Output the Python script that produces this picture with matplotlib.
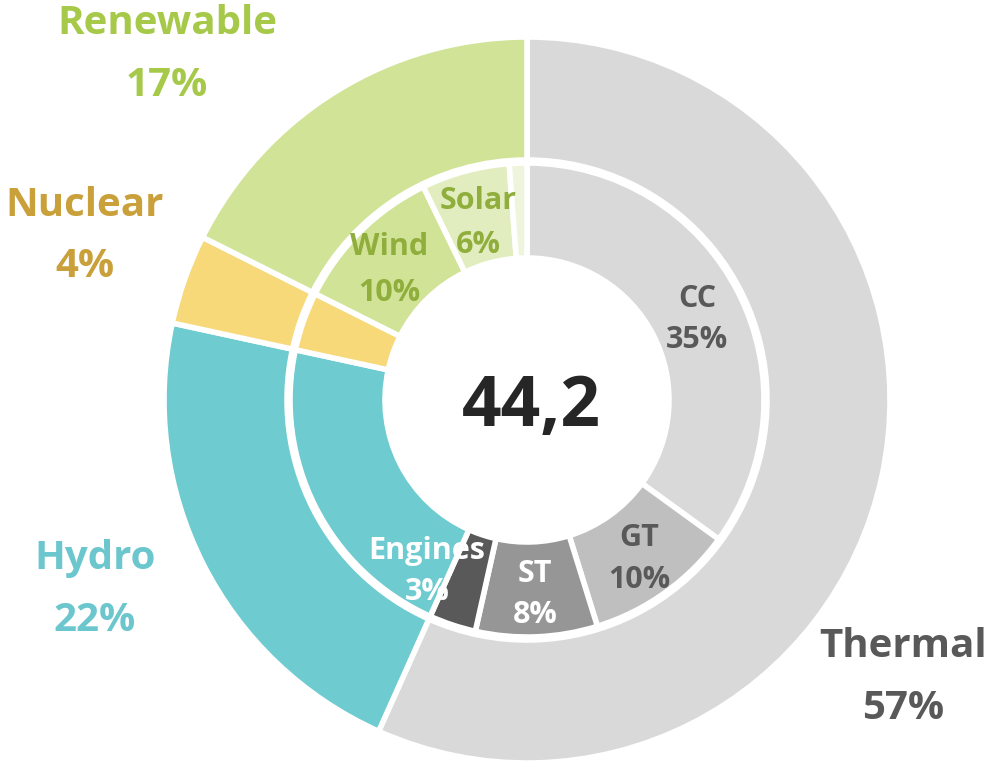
import matplotlib.pyplot as plt

plt.rcParams['font.family'] = ['Open Sans', 'DejaVu Sans']

# Outer ring: technology groups (share of capacity, %)
outer_labels = ["Thermal", "Hydro", "Nuclear", "Renewable"]
outer_values = [56.7, 21.7, 4.0, 17.6]
outer_text = ["57%", "22%", "4%", "17%"]

# Inner ring: sub-technologies
inner_labels = ["CC", "GT", "ST", "Engines", "Hydro", "Nuclear", "Wind", "Solar", "Other"]
inner_values = [35.0, 10.2, 8.3, 3.2, 21.7, 4.0, 10.4, 6.0, 1.2]
inner_text = ["35%", "10%", "8%", "3%", "", "", "10%", "6%", ""]

total_label = "44,2"

outer_colors = ["#d9d9d9", "#6ecbd0", "#f7d97a", "#d1e396"]
inner_colors = ["#d9d9d9", "#bfbfbf", "#969696", "#595959",
                "#6ecbd0", "#f7d97a", "#d1e396", "#e2edbf", "#eff5dc"]

fig = plt.figure(figsize=(9.9, 7.78), dpi=100)
ax = fig.add_axes([0, 0, 1, 1])

R = 363.0
ax.pie(outer_values, radius=1.0, colors=outer_colors, startangle=90,
       counterclock=False,
       wedgeprops=dict(width=123 / R, edgecolor="white", linewidth=4))
ax.pie(inner_values, radius=237 / R, colors=inner_colors, startangle=90,
       counterclock=False,
       wedgeprops=dict(width=95 / R, edgecolor="white", linewidth=4))

ax.set_xlim(-527 / R, (990 - 527) / R)
ax.set_ylim(-(778 - 400) / R, 400 / R)
ax.set_aspect("equal")
ax.axis("off")

# Outer labels (name on first line, percent on second)
outer_pos = {
    "Thermal": (1.036, -0.680, -0.850, "#595959"),
    "Hydro": (-1.19, -0.437, -0.608, "#6cc6cd"),
    "Nuclear": (-1.218, 0.535, 0.367, "#c9a03a"),
    "Renewable": (-0.992, 1.037, 0.866, "#a6c94a"),
}
for name, pct in zip(outer_labels, outer_text):
    x, y1, y2, c = outer_pos[name]
    ax.text(x, y1, name, ha="center", va="center", fontsize=29,
            fontweight="bold", color=c)
    ax.text(x, y2, pct, ha="center", va="center", fontsize=29,
            fontweight="bold", color=c)

inner_pos = {
    "CC": (0.468, 0.278, 0.165, "#595959"),
    "GT": (0.309, -0.380, -0.495, "#595959"),
    "ST": (0.022, -0.480, -0.592, "white"),
    "Engines": (-0.275, -0.416, -0.528, "white"),
    "Wind": (-0.380, 0.421, 0.295, "#8fae3c"),
    "Solar": (-0.135, 0.548, 0.428, "#8fae3c"),
}
for name, pct in zip(inner_labels, inner_text):
    if name not in inner_pos:
        continue
    x, y1, y2, c = inner_pos[name]
    ax.text(x, y1, name, ha="center", va="center", fontsize=22,
            fontweight="bold", color=c)
    ax.text(x, y2, pct, ha="center", va="center", fontsize=22,
            fontweight="bold", color=c)

ax.text(0.011, -0.022, total_label, ha="center", va="center", fontsize=50,
        fontweight="bold", color="#262626")

fig.savefig("out.png", dpi=100)
